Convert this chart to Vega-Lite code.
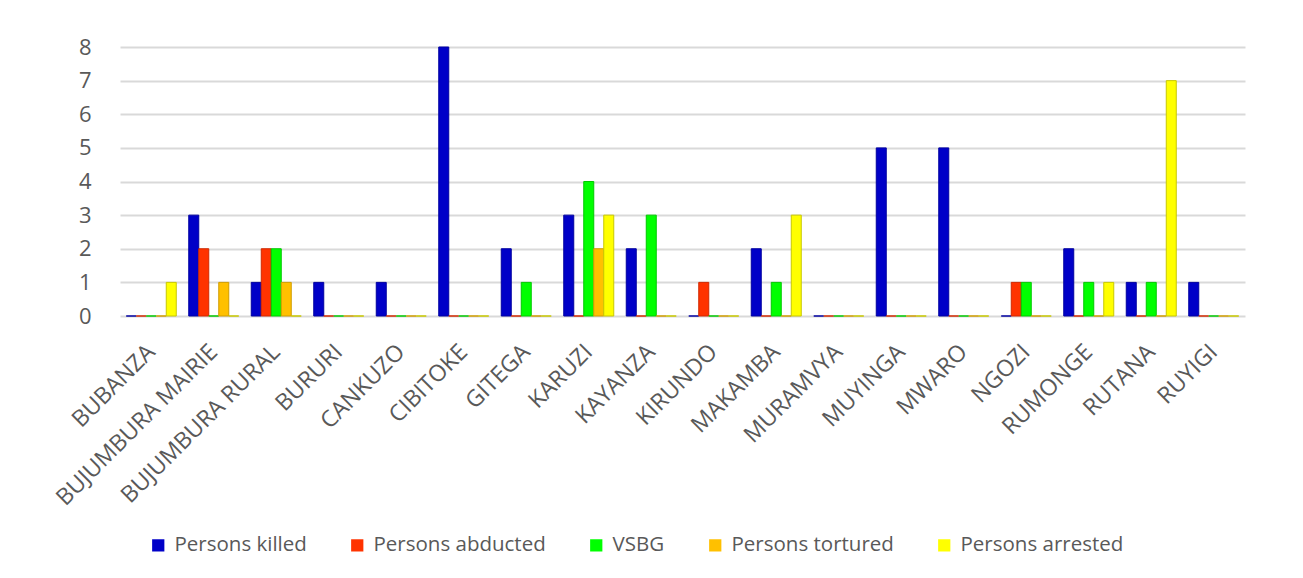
{
  "$schema": "https://vega.github.io/schema/vega-lite/v6.json",
  "width": 1125,
  "height": 269,
  "autosize": {"type": "none"},
  "padding": {"left": 120, "top": 47, "right": 58, "bottom": 262},
  "background": "white",
  "data": {
    "values": [
      {"region": "BUBANZA", "series": "Persons killed", "value": 0},
      {"region": "BUBANZA", "series": "Persons abducted", "value": 0},
      {"region": "BUBANZA", "series": "VSBG", "value": 0},
      {"region": "BUBANZA", "series": "Persons tortured", "value": 0},
      {"region": "BUBANZA", "series": "Persons arrested", "value": 1},
      {"region": "BUJUMBURA MAIRIE", "series": "Persons killed", "value": 3},
      {"region": "BUJUMBURA MAIRIE", "series": "Persons abducted", "value": 2},
      {"region": "BUJUMBURA MAIRIE", "series": "VSBG", "value": 0},
      {"region": "BUJUMBURA MAIRIE", "series": "Persons tortured", "value": 1},
      {"region": "BUJUMBURA MAIRIE", "series": "Persons arrested", "value": 0},
      {"region": "BUJUMBURA RURAL", "series": "Persons killed", "value": 1},
      {"region": "BUJUMBURA RURAL", "series": "Persons abducted", "value": 2},
      {"region": "BUJUMBURA RURAL", "series": "VSBG", "value": 2},
      {"region": "BUJUMBURA RURAL", "series": "Persons tortured", "value": 1},
      {"region": "BUJUMBURA RURAL", "series": "Persons arrested", "value": 0},
      {"region": "BURURI", "series": "Persons killed", "value": 1},
      {"region": "BURURI", "series": "Persons abducted", "value": 0},
      {"region": "BURURI", "series": "VSBG", "value": 0},
      {"region": "BURURI", "series": "Persons tortured", "value": 0},
      {"region": "BURURI", "series": "Persons arrested", "value": 0},
      {"region": "CANKUZO", "series": "Persons killed", "value": 1},
      {"region": "CANKUZO", "series": "Persons abducted", "value": 0},
      {"region": "CANKUZO", "series": "VSBG", "value": 0},
      {"region": "CANKUZO", "series": "Persons tortured", "value": 0},
      {"region": "CANKUZO", "series": "Persons arrested", "value": 0},
      {"region": "CIBITOKE", "series": "Persons killed", "value": 8},
      {"region": "CIBITOKE", "series": "Persons abducted", "value": 0},
      {"region": "CIBITOKE", "series": "VSBG", "value": 0},
      {"region": "CIBITOKE", "series": "Persons tortured", "value": 0},
      {"region": "CIBITOKE", "series": "Persons arrested", "value": 0},
      {"region": "GITEGA", "series": "Persons killed", "value": 2},
      {"region": "GITEGA", "series": "Persons abducted", "value": 0},
      {"region": "GITEGA", "series": "VSBG", "value": 1},
      {"region": "GITEGA", "series": "Persons tortured", "value": 0},
      {"region": "GITEGA", "series": "Persons arrested", "value": 0},
      {"region": "KARUZI", "series": "Persons killed", "value": 3},
      {"region": "KARUZI", "series": "Persons abducted", "value": 0},
      {"region": "KARUZI", "series": "VSBG", "value": 4},
      {"region": "KARUZI", "series": "Persons tortured", "value": 2},
      {"region": "KARUZI", "series": "Persons arrested", "value": 3},
      {"region": "KAYANZA", "series": "Persons killed", "value": 2},
      {"region": "KAYANZA", "series": "Persons abducted", "value": 0},
      {"region": "KAYANZA", "series": "VSBG", "value": 3},
      {"region": "KAYANZA", "series": "Persons tortured", "value": 0},
      {"region": "KAYANZA", "series": "Persons arrested", "value": 0},
      {"region": "KIRUNDO", "series": "Persons killed", "value": 0},
      {"region": "KIRUNDO", "series": "Persons abducted", "value": 1},
      {"region": "KIRUNDO", "series": "VSBG", "value": 0},
      {"region": "KIRUNDO", "series": "Persons tortured", "value": 0},
      {"region": "KIRUNDO", "series": "Persons arrested", "value": 0},
      {"region": "MAKAMBA", "series": "Persons killed", "value": 2},
      {"region": "MAKAMBA", "series": "Persons abducted", "value": 0},
      {"region": "MAKAMBA", "series": "VSBG", "value": 1},
      {"region": "MAKAMBA", "series": "Persons tortured", "value": 0},
      {"region": "MAKAMBA", "series": "Persons arrested", "value": 3},
      {"region": "MURAMVYA", "series": "Persons killed", "value": 0},
      {"region": "MURAMVYA", "series": "Persons abducted", "value": 0},
      {"region": "MURAMVYA", "series": "VSBG", "value": 0},
      {"region": "MURAMVYA", "series": "Persons tortured", "value": 0},
      {"region": "MURAMVYA", "series": "Persons arrested", "value": 0},
      {"region": "MUYINGA", "series": "Persons killed", "value": 5},
      {"region": "MUYINGA", "series": "Persons abducted", "value": 0},
      {"region": "MUYINGA", "series": "VSBG", "value": 0},
      {"region": "MUYINGA", "series": "Persons tortured", "value": 0},
      {"region": "MUYINGA", "series": "Persons arrested", "value": 0},
      {"region": "MWARO", "series": "Persons killed", "value": 5},
      {"region": "MWARO", "series": "Persons abducted", "value": 0},
      {"region": "MWARO", "series": "VSBG", "value": 0},
      {"region": "MWARO", "series": "Persons tortured", "value": 0},
      {"region": "MWARO", "series": "Persons arrested", "value": 0},
      {"region": "NGOZI", "series": "Persons killed", "value": 0},
      {"region": "NGOZI", "series": "Persons abducted", "value": 1},
      {"region": "NGOZI", "series": "VSBG", "value": 1},
      {"region": "NGOZI", "series": "Persons tortured", "value": 0},
      {"region": "NGOZI", "series": "Persons arrested", "value": 0},
      {"region": "RUMONGE", "series": "Persons killed", "value": 2},
      {"region": "RUMONGE", "series": "Persons abducted", "value": 0},
      {"region": "RUMONGE", "series": "VSBG", "value": 1},
      {"region": "RUMONGE", "series": "Persons tortured", "value": 0},
      {"region": "RUMONGE", "series": "Persons arrested", "value": 1},
      {"region": "RUTANA", "series": "Persons killed", "value": 1},
      {"region": "RUTANA", "series": "Persons abducted", "value": 0},
      {"region": "RUTANA", "series": "VSBG", "value": 1},
      {"region": "RUTANA", "series": "Persons tortured", "value": 0},
      {"region": "RUTANA", "series": "Persons arrested", "value": 7},
      {"region": "RUYIGI", "series": "Persons killed", "value": 1},
      {"region": "RUYIGI", "series": "Persons abducted", "value": 0},
      {"region": "RUYIGI", "series": "VSBG", "value": 0},
      {"region": "RUYIGI", "series": "Persons tortured", "value": 0},
      {"region": "RUYIGI", "series": "Persons arrested", "value": 0}
    ]
  },
  "mark": {"type": "bar", "strokeWidth": 1},
  "encoding": {
    "x": {
      "field": "region",
      "type": "nominal",
      "sort": null,
      "scale": {"paddingInner": 0.2, "paddingOuter": 0.1},
      "axis": {
        "title": null,
        "labelAngle": -45,
        "labelAlign": "right",
        "labelBaseline": "middle",
        "labelFont": "Open Sans",
        "labelFontSize": 23,
        "labelColor": "#595959",
        "labelPadding": 32,
        "labelDx": -20,
        "labelLimit": 400,
        "labelOverlap": false,
        "ticks": false,
        "domain": false,
        "grid": false
      }
    },
    "xOffset": {
      "field": "series",
      "type": "nominal",
      "sort": ["Persons killed", "Persons abducted", "VSBG", "Persons tortured", "Persons arrested"],
      "scale": {"paddingInner": 0}
    },
    "y": {
      "field": "value",
      "type": "quantitative",
      "scale": {"domain": [0, 8]},
      "axis": {
        "title": null,
        "values": [0, 1, 2, 3, 4, 5, 6, 7, 8],
        "labelFont": "Open Sans",
        "labelFontSize": 22,
        "labelColor": "#595959",
        "labelPadding": 29,
        "ticks": false,
        "domain": false,
        "gridColor": "#D9D9D9",
        "gridWidth": 2
      }
    },
    "color": {
      "field": "series",
      "type": "nominal",
      "sort": ["Persons killed", "Persons abducted", "VSBG", "Persons tortured", "Persons arrested"],
      "scale": {
        "domain": ["Persons killed", "Persons abducted", "VSBG", "Persons tortured", "Persons arrested"],
        "range": ["#0000C8", "#FF3300", "#00FF00", "#FFC000", "#FFFF00"]
      },
      "legend": {
        "title": null,
        "orient": "none",
        "direction": "horizontal",
        "legendX": 28,
        "legendY": 488,
        "columns": 5,
        "columnPadding": 40,
        "symbolType": "square",
        "symbolSize": 150,
        "symbolStrokeWidth": 0,
        "labelFont": "Open Sans",
        "labelFontSize": 20.5,
        "labelColor": "#595959",
        "labelOffset": 6,
        "labelLimit": 400
      }
    },
    "stroke": {
      "field": "series",
      "type": "nominal",
      "scale": {
        "domain": ["Persons killed", "Persons abducted", "VSBG", "Persons tortured", "Persons arrested"],
        "range": ["#0000A0", "#D02800", "#00C800", "#D09C00", "#C8C800"]
      },
      "legend": null
    }
  },
  "config": {
    "view": {"stroke": null}
  }
}
